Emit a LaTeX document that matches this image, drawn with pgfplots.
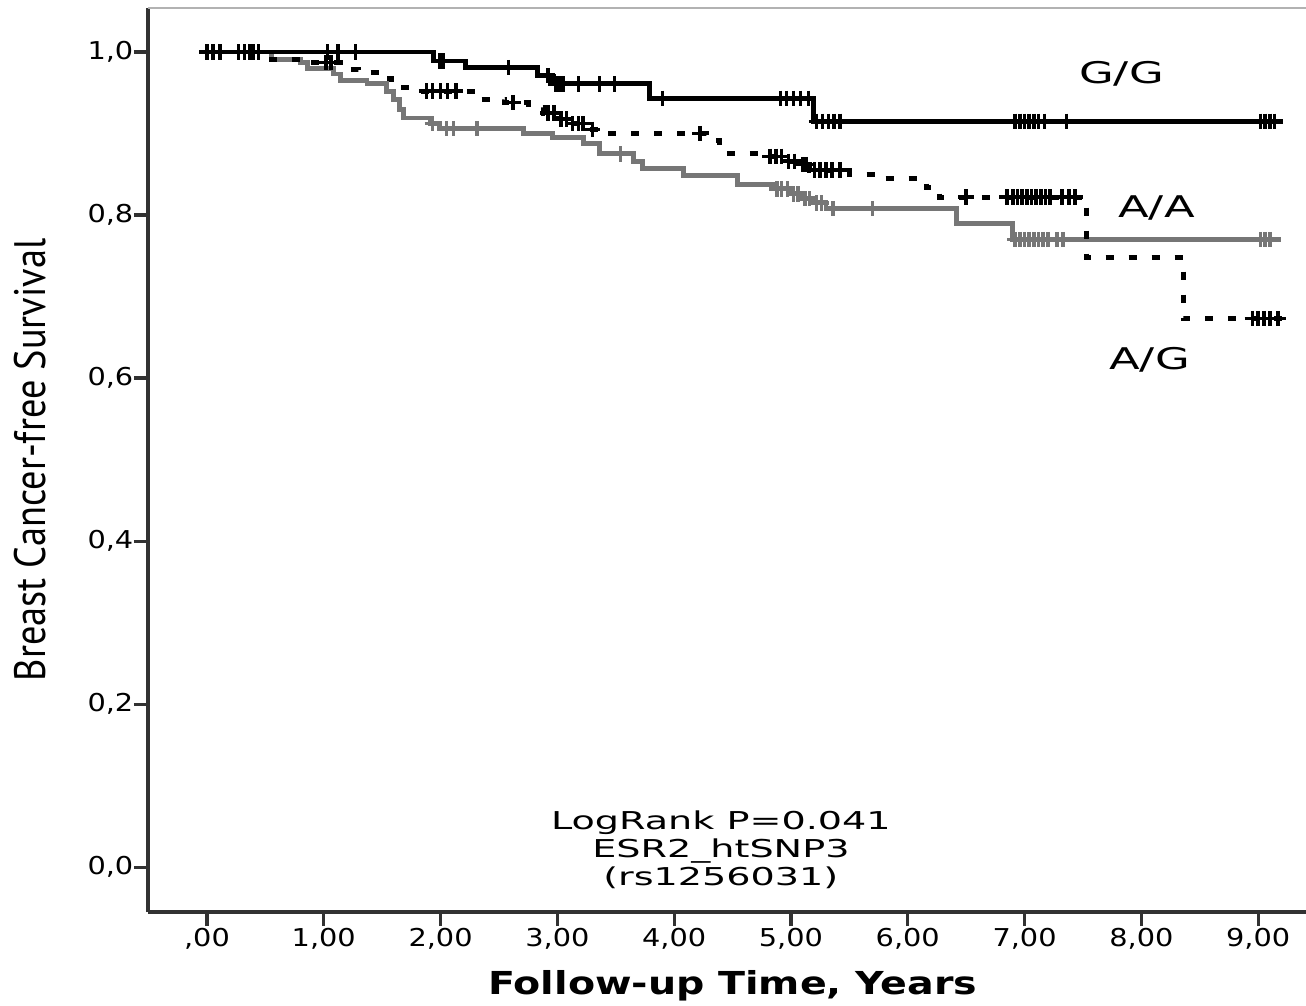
\documentclass[border=0pt]{standalone}
\usepackage{fontspec}
\usepackage{graphicx}
\usepackage{pgfplots}
\pgfplotsset{compat=1.18}
\setmainfont{DejaVu Sans}
\newfontfamily\tickfam{DejaVu Sans}[FakeStretch=1.17]
\newfontfamily\annfam{DejaVu Sans}[FakeStretch=1.55]
\newfontfamily\labfam{DejaVu Sans}[FakeStretch=1.5]
\newfontfamily\xlabfam{DejaVu Sans Bold}[FakeStretch=1.25]
\newfontfamily\ylabfam{PT Sans}
\definecolor{aagray}{RGB}{118,118,118}
\definecolor{axisline}{RGB}{50,50,50}

% step curves (value holds until the next x)
\pgfplotstableread{
x y
0 1.000
1.94 0.989
2.21 0.981
2.83 0.971
2.96 0.961
3.79 0.943
5.19 0.915
9.21 0.915
}\gg

\pgfplotstableread{
x y
0 1.000
0.55 0.991
0.80 0.987
0.86 0.980
1.08 0.973
1.14 0.965
1.37 0.961
1.54 0.952
1.60 0.942
1.65 0.930
1.68 0.919
1.91 0.912
1.99 0.906
2.71 0.900
2.96 0.895
3.22 0.888
3.36 0.875
3.65 0.866
3.73 0.857
4.08 0.848
4.54 0.838
4.86 0.832
5.00 0.826
5.10 0.820
5.20 0.815
5.30 0.808
6.42 0.790
6.90 0.770
9.20 0.770
}\aa

\pgfplotstableread{
x y
0 1.000
0.55 0.991
0.80 0.987
1.14 0.979
1.30 0.975
1.45 0.967
1.58 0.956
1.75 0.952
2.30 0.942
2.55 0.938
2.75 0.932
2.88 0.925
3.00 0.918
3.10 0.912
3.25 0.905
3.36 0.900
4.28 0.891
4.39 0.876
4.80 0.872
4.95 0.866
5.08 0.862
5.16 0.855
5.50 0.850
5.80 0.845
6.16 0.834
6.27 0.822
7.53 0.748
8.36 0.673
9.25 0.673
}\ag

% censored cases
\pgfplotstableread{
x y
0.00 1.0
0.11 1.0
0.27 1.0
0.32 1.0
0.37 1.0
0.44 1.0
1.03 1.0
1.12 1.0
1.27 1.0
1.99 0.989
2.02 0.989
2.58 0.981
2.92 0.971
2.99 0.961
3.02 0.961
3.05 0.961
3.18 0.961
3.36 0.961
3.49 0.961
3.90 0.943
4.91 0.943
4.96 0.943
5.02 0.943
5.08 0.943
5.15 0.943
5.22 0.915
5.27 0.915
5.32 0.915
5.37 0.915
5.42 0.915
6.92 0.915
6.96 0.915
7.00 0.915
7.04 0.915
7.08 0.915
7.12 0.915
7.17 0.915
7.36 0.915
9.02 0.915
9.06 0.915
9.10 0.915
9.14 0.915
}\ggc

\pgfplotstableread{
x y
0.11 1.0
1.93 0.912
2.05 0.906
2.11 0.906
2.31 0.906
3.54 0.875
4.88 0.832
4.92 0.832
4.97 0.832
5.02 0.826
5.06 0.826
5.12 0.820
5.16 0.820
5.22 0.815
5.26 0.815
5.36 0.808
5.70 0.808
6.92 0.770
6.96 0.770
7.00 0.770
7.04 0.770
7.08 0.770
7.12 0.770
7.16 0.770
7.20 0.770
7.28 0.770
7.33 0.770
9.02 0.770
9.06 0.770
9.10 0.770
}\aac

\pgfplotstableread{
x y
0.05 1.0
0.40 1.0
1.02 0.987
1.06 0.987
1.88 0.952
1.93 0.952
2.00 0.952
2.06 0.952
2.13 0.952
2.62 0.938
2.92 0.925
2.97 0.925
3.03 0.918
3.08 0.918
3.13 0.912
3.18 0.912
3.22 0.912
3.30 0.905
4.22 0.900
4.82 0.872
4.87 0.872
4.92 0.872
4.98 0.866
5.03 0.866
5.10 0.862
5.13 0.862
5.20 0.855
5.25 0.855
5.30 0.855
5.35 0.855
5.42 0.855
6.50 0.822
6.85 0.822
6.90 0.822
6.94 0.822
6.98 0.822
7.02 0.822
7.06 0.822
7.10 0.822
7.14 0.822
7.18 0.822
7.22 0.822
7.32 0.822
7.38 0.822
7.43 0.822
8.95 0.673
9.00 0.673
9.05 0.673
9.10 0.673
9.17 0.673
}\agc

\begin{document}
\begin{tikzpicture}
\begin{axis}[name=ax,
  scale only axis, width=115.8mm, height=90.4mm,
  xmin=-0.505, xmax=9.41, ymin=-0.055, ymax=1.054,
  axis lines*=left,
  axis line style={axisline, line width=0.9pt},
  xtick={0,1,2,3,4,5,6,7,8,9},
  xticklabels={{,00},{1,00},{2,00},{3,00},{4,00},{5,00},{6,00},{7,00},{8,00},{9,00}},
  ytick={0,0.2,0.4,0.6,0.8,1.0},
  yticklabels={{0,0},{0,2},{0,4},{0,6},{0,8},{1,0}},
  tick align=outside, major tick length=1.4mm,
  tick style={axisline, line width=0.9pt},
  xticklabel style={font=\tickfam\fontsize{7}{8}\selectfont, inner sep=0pt, anchor=north, yshift=-0.2mm},
  yticklabel style={font=\tickfam\fontsize{7}{8}\selectfont, inner sep=0pt, anchor=east},
  xlabel={\xlabfam\fontsize{9}{10}\selectfont Follow-up Time, Years},
  xlabel style={at={(axis description cs:0.505,-0.082)}, anchor=center, inner sep=0pt},
  ylabel={\scalebox{1}[1.15]{\ylabfam\fontsize{10.9}{12}\selectfont Breast Cancer-free Survival}},
  ylabel style={at={(axis description cs:-0.0872,0.5)}, anchor=south, inner sep=0pt},
  clip=false,
]
\addplot[const plot, aagray, line width=1.4pt] table {\aa};
\addplot[only marks, mark=+, mark size=2.2pt, aagray, mark options={line width=1pt}] table {\aac};
\addplot[const plot, black, line width=1.4pt, dash pattern=on 0.8mm off 1.5mm] table {\ag};
\addplot[only marks, mark=+, mark size=2.2pt, black, mark options={line width=1pt}] table {\agc};
\addplot[const plot, black, line width=1.4pt] table {\gg};
\addplot[only marks, mark=+, mark size=2.2pt, black, mark options={line width=1pt}] table {\ggc};
\draw[black!30, line width=0.6pt] (rel axis cs:0,1) -- (rel axis cs:1,1);
\node[font=\labfam\fontsize{8.5}{10}\selectfont] at (axis cs:7.83,0.973) {G/G};
\node[font=\labfam\fontsize{8.5}{10}\selectfont] at (axis cs:8.13,0.809) {A/A};
\node[font=\labfam\fontsize{8.5}{10}\selectfont] at (axis cs:8.07,0.622) {A/G};
\node[font=\annfam\fontsize{7}{8}\selectfont, align=center, inner sep=0pt] at (axis cs:4.40,0.021)
  {LogRank P=0.041\\ESR2\_htSNP3\\(rs1256031)};
\end{axis}
\pgfresetboundingbox
\path ([xshift=-14.8mm,yshift=-9.3mm]ax.south west) rectangle ([yshift=0.8mm]ax.north east);
\end{tikzpicture}
\end{document}
